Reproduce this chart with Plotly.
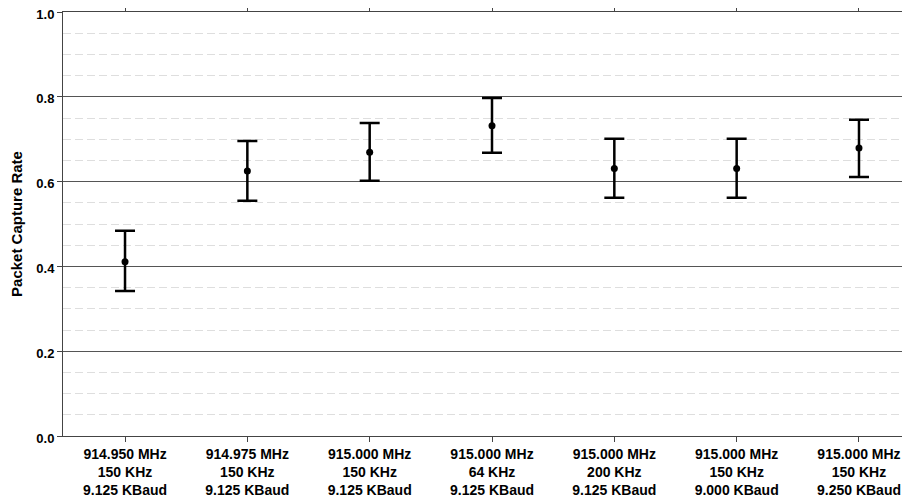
import plotly.graph_objects as go

categories = [
    "914.950 MHz<br>150 KHz<br>9.125 KBaud",
    "914.975 MHz<br>150 KHz<br>9.125 KBaud",
    "915.000 MHz<br>150 KHz<br>9.125 KBaud",
    "915.000 MHz<br>64 KHz<br>9.125 KBaud",
    "915.000 MHz<br>200 KHz<br>9.125 KBaud",
    "915.000 MHz<br>150 KHz<br>9.000 KBaud",
    "915.000 MHz<br>150 KHz<br>9.250 KBaud",
]
rate_mean = [0.411, 0.625, 0.669, 0.732, 0.631, 0.631, 0.679]
rate_upper = [0.484, 0.696, 0.738, 0.797, 0.701, 0.701, 0.746]
rate_lower = [0.342, 0.555, 0.602, 0.668, 0.562, 0.562, 0.611]

err_plus = [u - m for u, m in zip(rate_upper, rate_mean)]
err_minus = [m - l for m, l in zip(rate_mean, rate_lower)]

fig = go.Figure()
fig.add_trace(go.Scatter(
    x=categories,
    y=rate_mean,
    mode="markers",
    marker=dict(color="black", size=7),
    error_y=dict(type="data", symmetric=False, array=err_plus, arrayminus=err_minus,
                 color="black", thickness=2.5, width=10),
    showlegend=False,
))

font_family = "Liberation Sans, Arial, sans-serif"
# page body has an 8px margin, so the figure is sized to the remaining window
fig.update_layout(
    width=902, height=492,
    margin=dict(l=55, r=0, t=4, b=64, autoexpand=False),
    paper_bgcolor="white",
    plot_bgcolor="white",
    font=dict(family=font_family, color="black"),
)
fig.update_xaxes(
    type="category",
    automargin=False,
    range=[-0.507, 6.417],
    showline=True, linecolor="#444", linewidth=1,
    mirror="ticks",
    ticks="outside", ticklen=5, tickcolor="#444",
    tickfont=dict(size=14, family=font_family, weight="bold"),
    ticklabeloverflow="allow",
    showgrid=False, zeroline=False,
)
fig.update_yaxes(
    automargin=False,
    range=[0, 1.0],
    dtick=0.2, tick0=0,
    tickformat=".1f",
    showline=True, linecolor="#444", linewidth=1,
    ticks="outside", ticklen=5, tickcolor="#444",
    tickfont=dict(size=13, family=font_family, weight="bold"),
    ticklabeloverflow="allow",
    ticklabelshift=2,
    showgrid=True, gridcolor="#555", gridwidth=1,
    zeroline=False,
    minor=dict(dtick=0.05, showgrid=True, gridcolor="#dedede", griddash="8px,4px", gridwidth=1),
    title=dict(text="Packet Capture Rate", font=dict(size=15, family=font_family, weight="bold"), standoff=10),
)

fig.write_html("out.html")
